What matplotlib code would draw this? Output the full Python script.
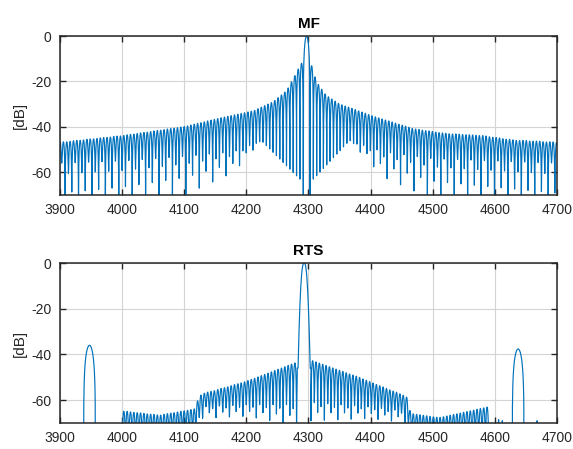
import numpy as np
import matplotlib
matplotlib.use('Agg')
import matplotlib.pyplot as plt

# ---- values ----
x_ticks = [3900, 4000, 4100, 4200, 4300, 4400, 4500, 4600, 4700]
y_ticks = [-60, -40, -20, 0]
lobe_spacing = 5.4

# MF: sinc-like response centred on 4297
mf_center = 4297.0
mf_env_f = [3900, 4000, 4100, 4160, 4212, 4243, 4265, 4281, 4288, 4304, 4309, 4315, 4328, 4350, 4400, 4470, 4520, 4580, 4630, 4700]
mf_env_db = [-47, -44, -40, -36, -33, -29, -24, -16, -12, -12, -17, -21, -26, -30, -35, -41, -43, -44, -46, -47]
mf_null_f = [3900, 4000, 4100, 4180, 4224, 4286, 4308, 4366, 4420, 4500, 4600, 4700]
mf_null_shallow_db = [-56, -55, -53, -51, -46, -63, -63, -46, -51, -54, -55, -56]
mf_null_deep_db = [-80, -76, -70, -60, -46, -63, -63, -46, -62, -72, -76, -80]

# RTS: isolated lobes, sideband trains and main lobe
rts_main_f = 4293.0
rts_main_halfwidth_20db = 7.0
rts_main_edges = [4282, 4304]
rts_side_f = [3947.5, 4637.5]
rts_side_db = [-36, -37.6]
rts_side_halfwidth = 9.5
rts_train_start = [4000, 4304]
rts_train_end = [4282, 4595]
rts_env_f = [4000, 4060, 4118, 4124, 4200, 4280, 4304, 4380, 4458, 4464, 4510, 4590]
rts_env_db = [-65, -67, -64, -58.5, -52, -43.5, -42.5, -50, -59, -66, -68, -63]
rts_null_f = [4000, 4120, 4126, 4200, 4280, 4304, 4400, 4458, 4464, 4595]
rts_null_shallow_db = [-75, -75, -63, -62, -62, -61, -63, -65, -78, -78]
rts_null_deep_db = [-80, -80, -68, -67, -71, -69, -68, -70, -80, -80]
rts_blip_f = [4606, 4612, 4668]
rts_blip_db = [-68.5, -69, -69]

LINE = '#0072BD'
DARK = '#262626'
NULL_MIX = np.array([1.0, 0.0, 0.55, 0.2])


def lobe_trace(nulls, peaks, null_db, n=24):
    xs, ys = [], []
    t = np.linspace(0, 1, n, endpoint=False)
    for i in range(len(peaks)):
        a, b, p = nulls[i], nulls[i + 1], peaks[i]
        floor = 10 ** ((null_db[i] - p) / 10) * (1 - t) + 10 ** ((null_db[i + 1] - p) / 10) * t
        xs.append(a + (b - a) * t)
        ys.append(p + 10 * np.log10(np.sin(np.pi * t) ** 2 + floor))
    xs.append([nulls[-1]])
    ys.append([null_db[-1]])
    return np.concatenate(xs), np.concatenate(ys)


def null_levels(nulls, k, f, shallow, deep):
    sh = np.interp(nulls, f, shallow)
    dp = np.interp(nulls, f, deep)
    w = NULL_MIX[np.abs(k) % len(NULL_MIX)]
    return sh + w * (dp - sh)


def build_mf():
    k = np.arange(-75, 76)
    k = k[k != 0]
    nulls = mf_center + lobe_spacing * k
    centers = 0.5 * (nulls[:-1] + nulls[1:])
    peaks = np.interp(centers, mf_env_f, mf_env_db)
    main = np.argmin(np.abs(centers - mf_center))
    peaks[main] = 0.0
    ndb = null_levels(nulls, k, mf_null_f, mf_null_shallow_db, mf_null_deep_db)
    ndb[np.abs(k) == 1] = -95
    return lobe_trace(nulls, peaks, ndb)


def build_rts():
    xs, ys = [[3890.0]], [[-150.0]]
    # left isolated lobe
    x, y = lobe_trace([rts_side_f[0] - rts_side_halfwidth, rts_side_f[0] + rts_side_halfwidth],
                      [rts_side_db[0]], [-150, -150], n=60)
    xs.append(x); ys.append(y)
    # sideband trains + main lobe
    for j in range(len(rts_train_start)):
        nulls = np.arange(rts_train_start[j], rts_train_end[j] + 0.01, lobe_spacing)
        kk = np.arange(len(nulls))
        centers = 0.5 * (nulls[:-1] + nulls[1:])
        peaks = np.interp(centers, rts_env_f, rts_env_db)
        ndb = null_levels(nulls, kk, rts_null_f, rts_null_shallow_db, rts_null_deep_db)
        if j == 0:
            ndb[0] = -150
        x, y = lobe_trace(nulls, peaks, ndb)
        xs.append(x); ys.append(y)
        if j == 0:
            xm = np.linspace(rts_main_edges[0], rts_main_edges[1], 120)
            ym = -20 * (np.abs(xm - rts_main_f) / rts_main_halfwidth_20db) ** 2.5
            ym = np.maximum(ym, -46)
            xs.append(xm); ys.append(ym)
    # tiny blips near the floor
    for f, p in zip(rts_blip_f, rts_blip_db):
        x, y = lobe_trace([f - 1.2, f + 1.2], [p], [-150, -150], n=10)
        xs.append(x); ys.append(y)
    # right isolated lobe
    x, y = lobe_trace([rts_side_f[1] - rts_side_halfwidth, rts_side_f[1] + rts_side_halfwidth],
                      [rts_side_db[1]], [-150, -150], n=60)
    xs.append(x); ys.append(y)
    xs.append([4710.0]); ys.append([-150.0])
    x = np.concatenate(xs)
    y = np.concatenate(ys)
    order = np.argsort(x, kind='stable')
    return x[order], y[order]


def style_axes(ax, title):
    ax.set_xlim(3900, 4700)
    ax.set_ylim(-70, 0)
    ax.set_xticks(x_ticks)
    ax.set_yticks(y_ticks)
    ax.grid(True, color='#d4d4d4', linewidth=0.8)
    ax.set_axisbelow(True)
    ax.tick_params(direction='in', length=4, width=1.0, top=True, right=True,
                   colors=DARK, labelsize=10, pad=6)
    for s in ax.spines.values():
        s.set_color(DARK)
        s.set_linewidth(1.1)
    ax.set_title(title, fontsize=11, fontweight='bold', color='black', pad=6)
    ax.set_ylabel('[dB]', fontsize=11, color=DARK, labelpad=3)


def main():
    plt.rcParams['font.family'] = ['Liberation Sans', 'DejaVu Sans']
    plt.rcParams['axes.unicode_minus'] = False
    fig = plt.figure(figsize=(5.73, 4.49), dpi=100)
    ax1 = fig.add_axes([0.1047, 0.5657, 0.8673, 0.3541])
    ax2 = fig.add_axes([0.1047, 0.0579, 0.8673, 0.3563])

    x, y = build_mf()
    ax1.plot(x, y, color=LINE, linewidth=0.85)
    style_axes(ax1, 'MF')

    x, y = build_rts()
    ax2.plot(x, y, color=LINE, linewidth=0.85)
    style_axes(ax2, 'RTS')

    fig.savefig('out.png', dpi=100)


if __name__ == '__main__':
    main()
